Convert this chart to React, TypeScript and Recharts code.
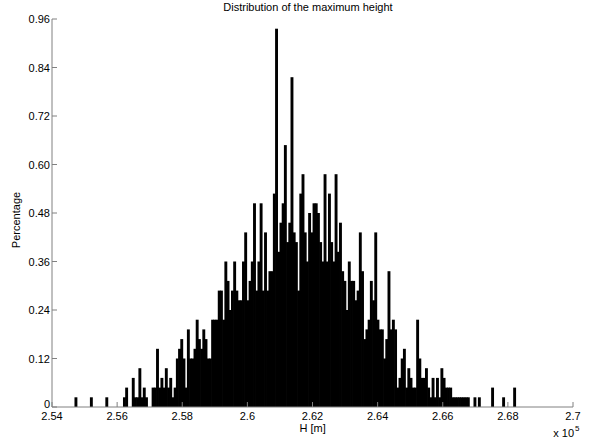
import { BarChart, Bar, XAxis, YAxis } from "recharts";

// Histogram of the maximum height H (in units of 1e5 m), 200 equal bins.
// First bin centre and bin width.
const firstBinCenter = 2.54735;
const binWidth = 0.000677;

// samples in each bin; one sample = 0.024 %
const binCounts = [
  1, 0, 0, 0, 0, 0, 0, 1, 0, 0,
  0, 0, 0, 0, 1, 0, 0, 0, 0, 0,
  0, 0, 1, 2, 0, 0, 3, 1, 1, 4,
  1, 2, 1, 0, 0, 2, 2, 6, 2, 3,
  2, 4, 2, 3, 1, 2, 5, 6, 7, 5,
  2, 8, 5, 5, 6, 9, 7, 6, 8, 7,
  5, 5, 9, 9, 9, 12, 12, 9, 15, 13,
  10, 12, 15, 12, 11, 11, 15, 18, 11, 13,
  15, 21, 12, 15, 21, 12, 18, 12, 14, 14,
  22, 39, 16, 19, 21, 27, 17, 19, 34, 18,
  17, 12, 22, 24, 18, 15, 20, 18, 21, 21,
  20, 17, 15, 24, 15, 22, 17, 15, 24, 16,
  19, 14, 13, 10, 15, 13, 13, 11, 12, 18,
  14, 7, 8, 9, 13, 11, 18, 9, 8, 8,
  5, 7, 14, 8, 9, 8, 2, 3, 5, 6,
  2, 4, 3, 2, 2, 9, 5, 3, 3, 4,
  2, 1, 3, 1, 3, 1, 4, 3, 2, 2,
  2, 1, 1, 1, 1, 1, 1, 1, 1, 0,
  0, 1, 0, 1, 0, 0, 0, 0, 0, 2,
  0, 0, 0, 0, 1, 0, 0, 0, 0, 2,
];
const percentPerSample = 0.024;

const xTicks = [2.54, 2.56, 2.58, 2.6, 2.62, 2.64, 2.66, 2.68, 2.7];
const xTickLabels = ["2.54", "2.56", "2.58", "2.6", "2.62", "2.64", "2.66", "2.68", "2.7"];
const yTicks = [0, 0.12, 0.24, 0.36, 0.48, 0.6, 0.72, 0.84, 0.96];
const yTickLabels = ["0", "0.12", "0.24", "0.36", "0.48", "0.60", "0.72", "0.84", "0.96"];

const data = binCounts.map((c, i) => ({
  h: +(firstBinCenter + i * binWidth).toFixed(6),
  pct: c * percentPerSample,
}));

const axisColor = "#808080";
const font = '"Liberation Sans", Arial, sans-serif';
const W = 598;
const H = 444;

// matlab style: ticks point into the box, labels outside
const BottomTick = ({ x, y, payload }: any) => {
  const i = xTicks.indexOf(payload.value);
  return (
    <g>
      <line x1={x} x2={x} y1={y} y2={y - 5} stroke={axisColor} />
      <text x={x} y={y + 13} textAnchor="middle" fontSize={11} fontFamily={font} fill="#000">
        {i >= 0 ? xTickLabels[i] : String(payload.value)}
      </text>
    </g>
  );
};

const TopTick = ({ x, y }: any) => (
  <line x1={x} x2={x} y1={y} y2={y + 5} stroke={axisColor} />
);

const LeftTick = ({ x, y, payload }: any) => {
  const i = yTicks.indexOf(payload.value);
  // the zero label sits a little higher so it clears the x labels
  const dy = payload.value === 0 ? 1 : 4;
  return (
    <g>
      <line x1={x} x2={x + 5} y1={y} y2={y} stroke={axisColor} />
      <text x={x - 2} y={y + dy} textAnchor="end" fontSize={11} fontFamily={font} fill="#000">
        {i >= 0 ? yTickLabels[i] : String(payload.value)}
      </text>
    </g>
  );
};

const RightTick = ({ x, y }: any) => (
  <line x1={x} x2={x - 5} y1={y} y2={y} stroke={axisColor} />
);

// recharts shrinks the bars a bit, widen them so neighbouring bins touch
const HistBar = ({ x, y, width, height }: any) => {
  if (!height || height <= 0) return null;
  return <rect x={x - 0.35} y={y} width={width + 0.7} height={height} fill="#000" />;
};

export default function App() {
  return (
    <div style={{ position: "absolute", left: 0, top: 0, width: W, height: H, background: "#fff" }}>
      <BarChart
        width={W}
        height={H}
        data={data}
        margin={{ top: 19, right: 25, bottom: 0, left: 0 }}
        barCategoryGap={0}
        barGap={0}
      >
        <XAxis
          xAxisId="bottom"
          dataKey="h"
          type="number"
          domain={[2.54, 2.7]}
          ticks={xTicks}
          interval={0}
          allowDataOverflow
          height={37}
          tickSize={0}
          tickMargin={0}
          tickLine={false}
          tick={<BottomTick />}
          axisLine={{ stroke: axisColor }}
        />
        <XAxis
          xAxisId="top"
          orientation="top"
          dataKey="h"
          type="number"
          domain={[2.54, 2.7]}
          ticks={xTicks}
          interval={0}
          allowDataOverflow
          height={0}
          tickSize={0}
          tickMargin={0}
          tickLine={false}
          tick={<TopTick />}
          axisLine={{ stroke: axisColor }}
        />
        <YAxis
          yAxisId="left"
          type="number"
          domain={[0, 0.96]}
          ticks={yTicks}
          interval={0}
          allowDataOverflow
          width={52}
          tickSize={0}
          tickMargin={0}
          tickLine={false}
          tick={<LeftTick />}
          axisLine={{ stroke: axisColor }}
        />
        <YAxis
          yAxisId="right"
          orientation="right"
          type="number"
          domain={[0, 0.96]}
          ticks={yTicks}
          interval={0}
          allowDataOverflow
          width={0}
          tickSize={0}
          tickMargin={0}
          tickLine={false}
          tick={<RightTick />}
          axisLine={{ stroke: axisColor }}
        />
        <Bar
          xAxisId="bottom"
          yAxisId="left"
          dataKey="pct"
          fill="#000"
          barSize={2.2}
          shape={<HistBar />}
          isAnimationActive={false}
        />
      </BarChart>
      <svg
        width={W}
        height={H}
        style={{ position: "absolute", left: 0, top: 0, pointerEvents: "none" }}
        fontFamily={font}
        fontSize={11}
      >
        <text x={308} y={11} textAnchor="middle" fill="#000">
          Distribution of the maximum height
        </text>
        <text transform="translate(20,220) rotate(-90)" textAnchor="middle" fill="#000">
          Percentage
        </text>
        <text x={312.6} y={432} textAnchor="middle" fill="#000">
          H [m]
        </text>
        <text x={574} y={437} textAnchor="end" fill="#000">
          x 10
        </text>
        <text x={575} y={431} fontSize={8} fill="#000">
          5
        </text>
      </svg>
    </div>
  );
}
